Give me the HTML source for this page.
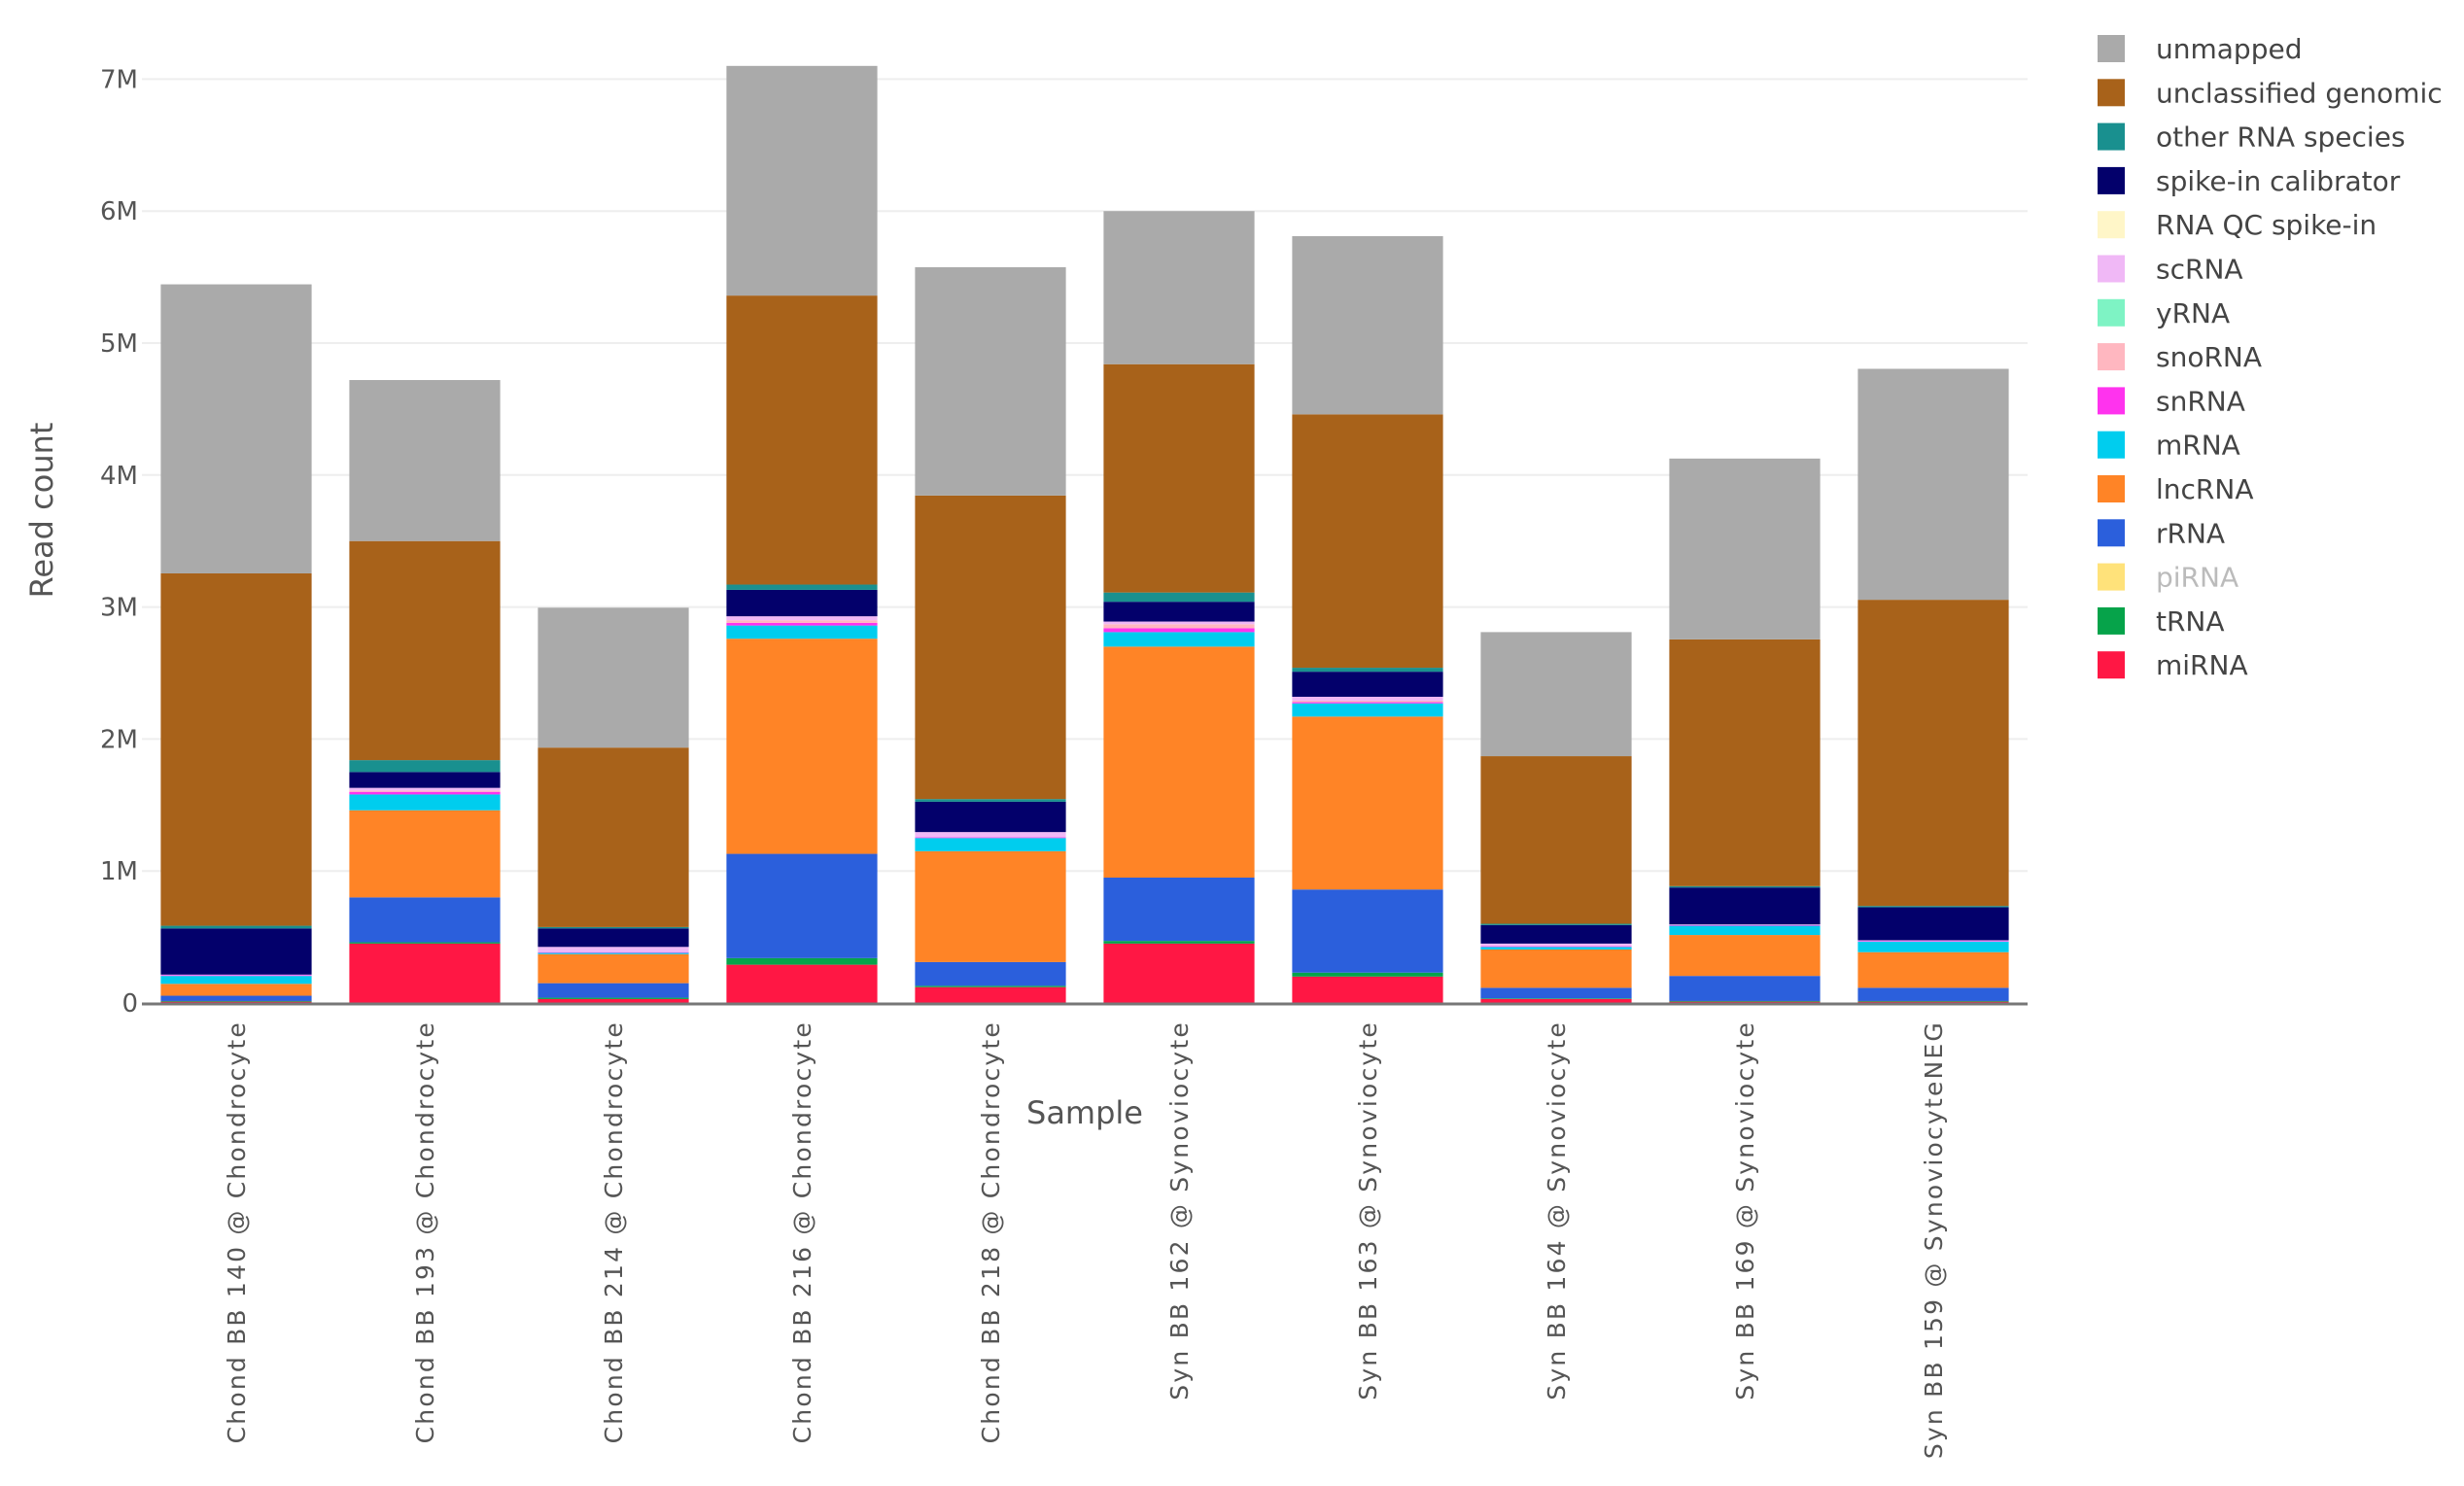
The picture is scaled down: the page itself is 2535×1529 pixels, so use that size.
<!DOCTYPE html>
<html><head><meta charset="utf-8"><style>
html,body{margin:0;padding:0;background:#fff;}
svg text{font-family:"DejaVu Sans","Liberation Sans",sans-serif;}
</style></head><body>
<svg id="chart" width="2535" height="1524" xmlns="http://www.w3.org/2000/svg">
<g id="grid"></g>
<g id="bars"></g>
<g id="yaxis"></g>
<g id="xaxis"></g>
<g id="legend"></g>
<text x="0" y="0" transform="translate(54,525) rotate(-90)" text-anchor="middle" font-size="32" fill="#555">Read count</text>
<text x="1116" y="1156" text-anchor="middle" font-size="32" fill="#555">Sample</text>
</svg>
<script>
const categories=["Chond BB 140 @ Chondrocyte","Chond BB 193 @ Chondrocyte","Chond BB 214 @ Chondrocyte","Chond BB 216 @ Chondrocyte","Chond BB 218 @ Chondrocyte","Syn BB 162 @ Synoviocyte","Syn BB 163 @ Synoviocyte","Syn BB 164 @ Synoviocyte","Syn BB 169 @ Synoviocyte","Syn BB 159 @ SynoviocyteNEG"];
const seriesNames=["miRNA","tRNA","piRNA","rRNA","lncRNA","mRNA","snRNA","snoRNA","yRNA","scRNA","RNA QC spike-in","spike-in calibrator","other RNA species","unclassified genomic","unmapped"];
const seriesColors=["#ff1744","#06a34a","#ffe27a","#2b5fdc","#ff8426","#00cdee","#ff33ee","#ffb7c0","#7ef3c4","#f0b8f6","#fff6c8","#03006b","#19908f","#a8621a","#aaaaaa"];
const miRNA=[0.01,0.45,0.03,0.29,0.12,0.45,0.20,0.03,0.01,0.01];
const tRNA=[0.005,0.01,0.01,0.05,0.01,0.02,0.03,0.005,0.005,0.005];
const piRNA=[0,0,0,0,0,0,0,0,0,0];
const rRNA=[0.04,0.34,0.11,0.79,0.18,0.48,0.63,0.08,0.19,0.10];
const lncRNA=[0.09,0.66,0.22,1.63,0.84,1.75,1.31,0.29,0.31,0.27];
const mRNA=[0.06,0.12,0.01,0.10,0.10,0.11,0.10,0.02,0.07,0.08];
const snRNA=[0.005,0.02,0.005,0.02,0.005,0.03,0.01,0.005,0.005,0.005];
const snoRNA=[0,0.01,0,0.02,0,0.03,0.01,0,0,0];
const yRNA=[0,0,0,0,0,0,0,0,0,0];
const scRNA=[0.005,0.02,0.04,0.03,0.04,0.02,0.03,0.02,0.005,0.005];
const rnaQC=[0,0,0,0,0,0,0,0,0,0];
const spikeIn=[0.35,0.12,0.14,0.20,0.23,0.15,0.19,0.14,0.28,0.25];
const otherRNA=[0.02,0.09,0.01,0.04,0.02,0.07,0.03,0.01,0.01,0.01];
const unclassified=[2.67,1.66,1.36,2.19,2.30,1.73,1.92,1.27,1.87,2.32];
const unmapped=[2.19,1.22,1.06,1.74,1.73,1.16,1.35,0.94,1.37,1.75];
const yTicks=[0,1,2,3,4,5,6,7];
const yTickLabels=["0","1M","2M","3M","4M","5M","6M","7M"];
const legendNames=["unmapped","unclassified genomic","other RNA species","spike-in calibrator","RNA QC spike-in","scRNA","yRNA","snoRNA","snRNA","mRNA","lncRNA","rRNA","piRNA","tRNA","miRNA"];

const series=[miRNA,tRNA,piRNA,rRNA,lncRNA,mRNA,snRNA,snoRNA,yRNA,scRNA,rnaQC,spikeIn,otherRNA,unclassified,unmapped];
const NS="http://www.w3.org/2000/svg";
const X0=146,X1=2086,Y0=1032,PXM=135.8;
const band=(X1-X0)/categories.length;
const xCenter=i=>X0+band*(i+0.5);
const yPos=v=>Y0-v*PXM;
function mk(tag,attrs,parent){const e=document.createElementNS(NS,tag);for(const k in attrs)e.setAttribute(k,attrs[k]);parent.appendChild(e);return e;}
const grid=document.getElementById('grid'),bars=document.getElementById('bars'),ya=document.getElementById('yaxis'),xa=document.getElementById('xaxis'),lg=document.getElementById('legend');
yTicks.forEach((t,i)=>{
  if(t>0){const l=mk('line',{x1:X0,x2:X1,y1:yPos(t),y2:yPos(t),stroke:'#eeeeee','stroke-width':2},grid);
  
  }
  const tx=mk('text',{x:X0-4,y:yPos(t)+9,'text-anchor':'end','font-size':26,fill:'#555'},ya);
  tx.textContent=yTickLabels[i];
  
  
});
const bw=band*0.8;
categories.forEach((c,i)=>{
  let cum=0;
  series.forEach((s,k)=>{
    const v=s[i];if(v<=0)return;
    const r=mk('rect',{x:xCenter(i)-bw/2,y:yPos(cum+v),width:bw,height:v*PXM,fill:seriesColors[k]},bars);
    
    
    cum+=v;
  });
  const tx=mk('text',{x:0,y:0,transform:`translate(${xCenter(i)+9},1050) rotate(-90)`,'text-anchor':'end','font-size':25,fill:'#555','letter-spacing':'2.2'},xa);
  tx.textContent=c;
  
  
});
const ax=mk('line',{x1:X0,x2:X1,y1:Y0+1,y2:Y0+1,stroke:'#777','stroke-width':3},xa);


legendNames.forEach((n,j)=>{
  const k=seriesNames.indexOf(n);
  const y=50+j*45.3;
  const g=mk('g',{},lg);
  
  
  mk('rect',{x:2158,y:y-14,width:28,height:28,fill:seriesColors[k]},g);
  const t=mk('text',{x:2218,y:y+10,'font-size':28,fill:n==='piRNA'?'#bbbbbb':'#444'},g);
  t.textContent=n;
});
</script>
</body></html>
